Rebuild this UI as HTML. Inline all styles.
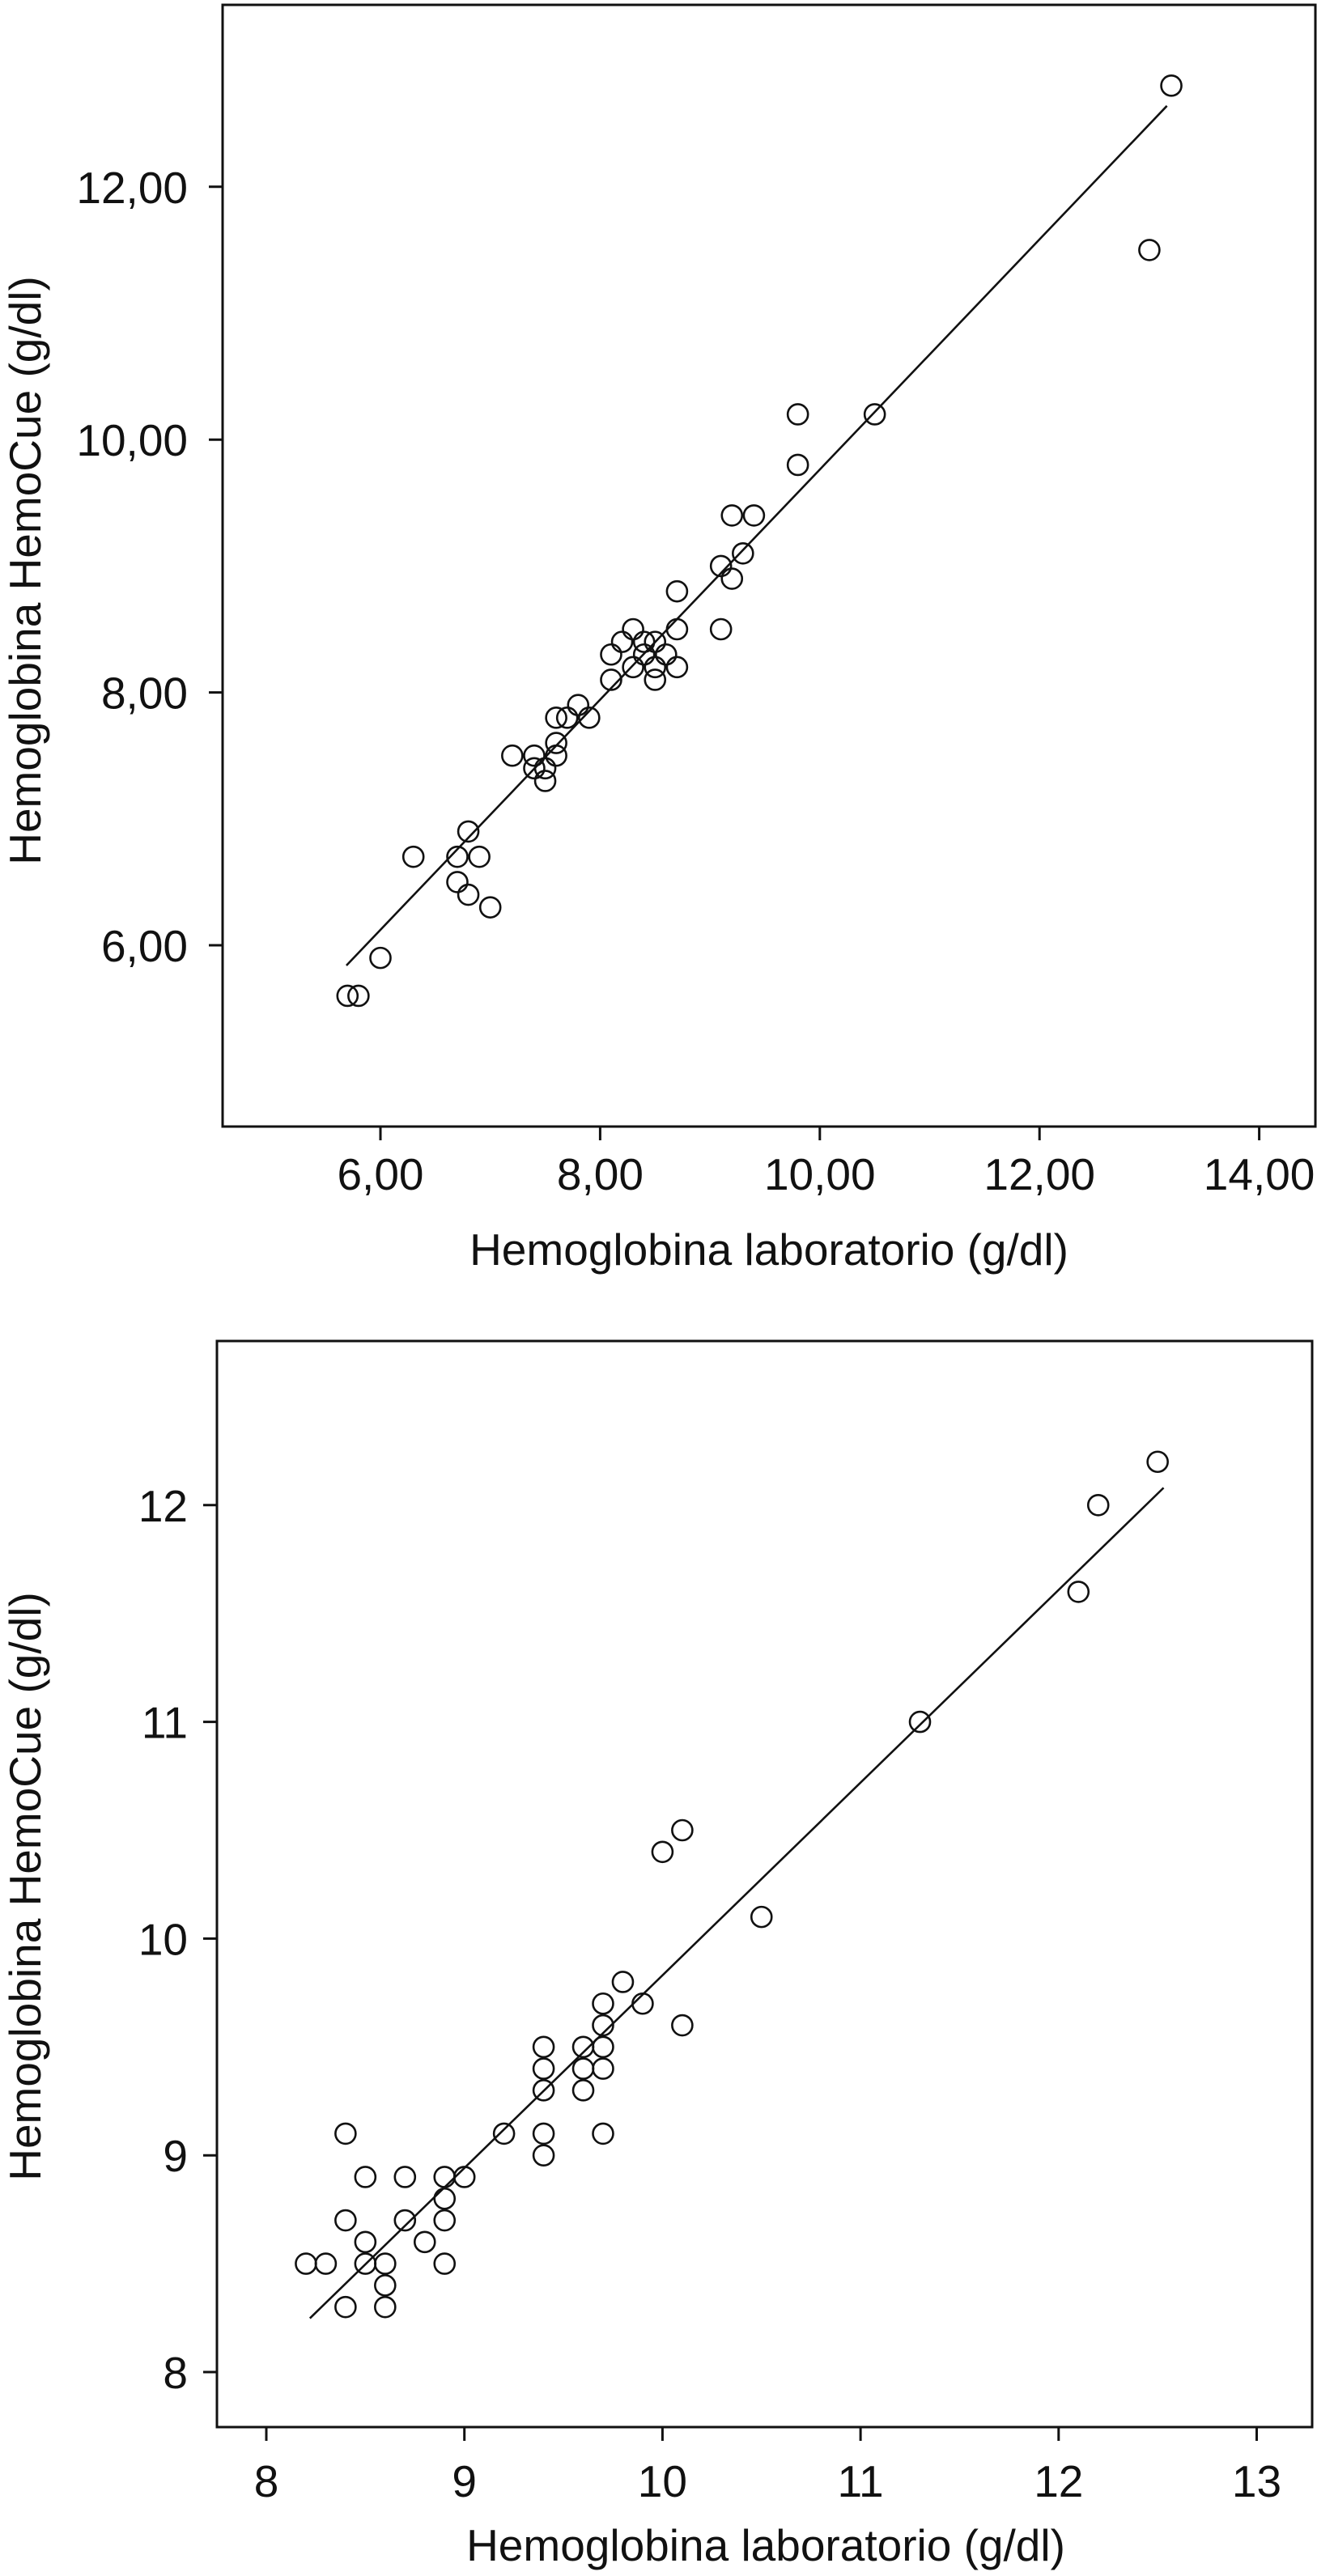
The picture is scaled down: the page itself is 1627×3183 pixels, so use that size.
<!DOCTYPE html>
<html><head><meta charset="utf-8">
<style>
html,body{margin:0;padding:0;background:#fff;}
svg{display:block;font-family:"Liberation Sans",Arial,sans-serif;}
</style></head>
<body>
<svg id="chart" width="1627" height="3183" viewBox="0 0 1627 3183" xmlns="http://www.w3.org/2000/svg">
<rect width="1627" height="3183" fill="#fff"/>
<g id="top"></g>
<g id="bottom"></g>
</svg>
<script>
// Top chart data
const topX = [13.2,13.0,9.8,10.5,9.8,9.2,9.4,9.3,9.1,9.2,8.7,9.1,8.7,8.3,8.2,8.4,8.5,8.1,8.4,8.6,8.3,8.5,8.7,8.1,8.5,7.8,7.6,7.7,7.9,7.6,7.2,7.4,7.6,7.4,7.5,7.5,6.8,6.3,6.7,6.9,6.7,6.8,7.0,6.0,5.7,5.8];
const topY = [12.8,11.5,10.2,10.2,9.8,9.4,9.4,9.1,9.0,8.9,8.8,8.5,8.5,8.5,8.4,8.4,8.4,8.3,8.3,8.3,8.2,8.2,8.2,8.1,8.1,7.9,7.8,7.8,7.8,7.6,7.5,7.5,7.5,7.4,7.4,7.3,6.9,6.7,6.7,6.7,6.5,6.4,6.3,5.9,5.6,5.6];
const topFitX = [5.69,13.16];
const topFitY = [5.84,12.64];
const topXTicks = [6,8,10,12,14];
const topXTickLabels = ["6,00","8,00","10,00","12,00","14,00"];
const topYTicks = [6,8,10,12];
const topYTickLabels = ["6,00","8,00","10,00","12,00"];

// Bottom chart data
const botX = [12.5,12.2,12.1,11.3,10.1,10.0,10.5,9.8,9.7,9.9,9.7,10.1,9.4,9.6,9.7,9.4,9.6,9.7,9.4,9.6,9.2,9.4,9.7,8.4,9.4,8.5,8.7,8.9,9.0,8.9,8.4,8.7,8.9,8.5,8.8,8.2,8.3,8.5,8.6,8.9,8.6,8.4,8.6];
const botY = [12.2,12.0,11.6,11.0,10.5,10.4,10.1,9.8,9.7,9.7,9.6,9.6,9.5,9.5,9.5,9.4,9.4,9.4,9.3,9.3,9.1,9.1,9.1,9.1,9.0,8.9,8.9,8.9,8.9,8.8,8.7,8.7,8.7,8.6,8.6,8.5,8.5,8.5,8.5,8.5,8.4,8.3,8.3];
const botFitX = [8.22,12.53];
const botFitY = [8.248,12.08];
const botXTicks = [8,9,10,11,12,13];
const botXTickLabels = ["8","9","10","11","12","13"];
const botYTicks = [8,9,10,11,12];
const botYTickLabels = ["8","9","10","11","12"];

const NS = "http://www.w3.org/2000/svg";
function mk(parent, tag, attrs){
  const e = document.createElementNS(NS, tag);
  for (const k in attrs) e.setAttribute(k, attrs[k]);
  parent.appendChild(e);
  return e;
}

function draw(g, cfg){
  const sx = v => cfg.px0 + (v - cfg.xv0) * cfg.kx;
  const sy = v => cfg.py0 - (v - cfg.yv0) * cfg.ky;
  const frame = mk(g, 'rect', {x:cfg.L, y:cfg.T, width:cfg.R-cfg.L, height:cfg.B-cfg.T, fill:'none', stroke:'#111', 'stroke-width':3});
  
  
  cfg.xTicks.forEach((t,i)=>{
    const x = sx(t);
    const tk = mk(g,'line',{x1:x,y1:cfg.B,x2:x,y2:cfg.B+17,stroke:'#111','stroke-width':3});
    
    
    const tx = mk(g,'text',{x:x,y:cfg.xLabY,'font-size':55,'text-anchor':'middle',fill:'#111'});
    tx.textContent = cfg.xLabels[i];
    
    
  });
  cfg.yTicks.forEach((t,i)=>{
    const y = sy(t);
    const tk = mk(g,'line',{x1:cfg.L-17,y1:y,x2:cfg.L,y2:y,stroke:'#111','stroke-width':3});
    
    
    const tx = mk(g,'text',{x:cfg.yLabX,y:y+20,'font-size':55,'text-anchor':'end',fill:'#111'});
    tx.textContent = cfg.yLabels[i];
    
    
  });
  const fit = mk(g,'line',{x1:sx(cfg.fitX[0]),y1:sy(cfg.fitY[0]),x2:sx(cfg.fitX[1]),y2:sy(cfg.fitY[1]),stroke:'#111','stroke-width':2.6});
  
  
  cfg.xs.forEach((v,i)=>{
    const c = mk(g,'circle',{cx:sx(v),cy:sy(cfg.ys[i]),r:12.5,fill:'none',stroke:'#111','stroke-width':2.6});
    
    
  });
  const xt = mk(g,'text',{x:cfg.xTitleX,y:cfg.xTitleY,'font-size':55,'text-anchor':'middle',fill:'#111'});
  xt.textContent = 'Hemoglobina laboratorio (g/dl)';
  
  
  const yt = mk(g,'text',{x:0,y:0,'font-size':55,'text-anchor':'middle',fill:'#111',transform:`translate(${cfg.yTitleX},${cfg.yTitleY}) rotate(-90)`});
  yt.textContent = 'Hemoglobina HemoCue (g/dl)';
  
  
}

draw(document.getElementById('top'), {
  L:275, R:1625, T:6, B:1392,
  px0:470, xv0:6, kx:135.7,
  py0:1168, yv0:6, ky:156.2,
  xs:topX, ys:topY, fitX:topFitX, fitY:topFitY,
  xTicks:topXTicks, xLabels:topXTickLabels, yTicks:topYTicks, yLabels:topYTickLabels,
  xLabY:1470, yLabX:232,
  xTitleX:950, xTitleY:1563, yTitleX:50, yTitleY:705
});
draw(document.getElementById('bottom'), {
  L:268, R:1621, T:1657, B:2999,
  px0:329, xv0:8, kx:244.7,
  py0:2931, yv0:8, ky:267.8,
  xs:botX, ys:botY, fitX:botFitX, fitY:botFitY,
  xTicks:botXTicks, xLabels:botXTickLabels, yTicks:botYTicks, yLabels:botYTickLabels,
  xLabY:3085, yLabX:232,
  xTitleX:946, xTitleY:3164, yTitleX:50, yTitleY:2331
});
</script>
</body></html>
